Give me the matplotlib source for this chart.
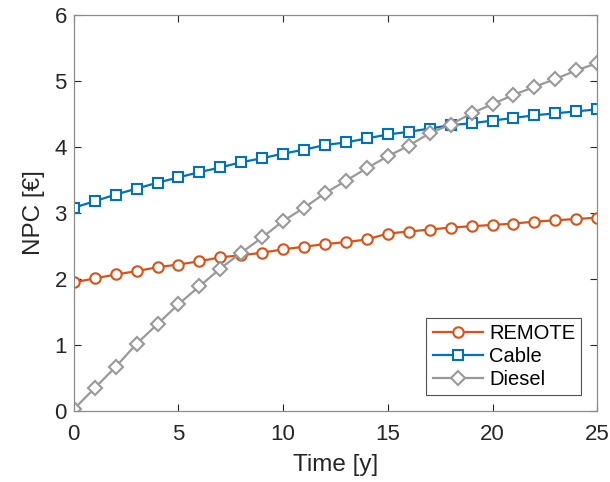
import numpy as np
import matplotlib
matplotlib.use("Agg")
import matplotlib.pyplot as plt

plt.rcParams['font.family'] = ['Liberation Sans', 'DejaVu Sans']

years = np.arange(0, 26)

remote = [1.95, 2.01, 2.07, 2.12, 2.18, 2.22, 2.27, 2.33, 2.36, 2.40,
          2.45, 2.49, 2.53, 2.56, 2.60, 2.69, 2.72, 2.75, 2.78, 2.80,
          2.82, 2.84, 2.87, 2.89, 2.91, 2.93]
cable = [3.08, 3.18, 3.28, 3.37, 3.46, 3.54, 3.62, 3.69, 3.77, 3.83,
         3.90, 3.96, 4.03, 4.07, 4.13, 4.19, 4.23, 4.28, 4.33, 4.36,
         4.40, 4.44, 4.48, 4.51, 4.54, 4.57]
diesel = [0.03, 0.35, 0.67, 1.02, 1.32, 1.62, 1.89, 2.16, 2.40, 2.63,
          2.88, 3.08, 3.30, 3.49, 3.68, 3.86, 4.02, 4.21, 4.34, 4.51,
          4.65, 4.79, 4.91, 5.03, 5.16, 5.27]

fig = plt.figure(figsize=(6.1, 4.82), dpi=100)
ax = fig.add_axes([0.121, 0.147, 0.858, 0.822])

lw = 1.6
ax.plot(years, remote, '-o', color='#D95319', label='REMOTE', linewidth=lw,
        markersize=7.5, markerfacecolor='white', markeredgewidth=1.5)
ax.plot(years, cable, '-s', color='#0072BD', label='Cable', linewidth=lw,
        markersize=6.5, markerfacecolor='white', markeredgewidth=1.5)
ax.plot(years, diesel, '-D', color='#999999', label='Diesel', linewidth=lw,
        markersize=7, markerfacecolor='white', markeredgewidth=1.5)

ax.set_xlim(0, 25)
ax.set_ylim(0, 6)
ax.set_xticks([0, 5, 10, 15, 20, 25])
ax.set_yticks([0, 1, 2, 3, 4, 5, 6])
ax.tick_params(direction='in', top=True, right=True, labelsize=16,
               colors='#262626', length=5, width=0.8)
ax.tick_params(axis='x', pad=9)
ax.tick_params(axis='y', pad=5)
for s in ax.spines.values():
    s.set_color('#8c8c8c')
    s.set_linewidth(0.9)
ax.set_xlabel('Time [y]', fontsize=17.5, color='#262626', labelpad=7)
ax.set_ylabel('NPC [€]', fontsize=17.5, color='#262626', labelpad=7)

leg = ax.legend(loc='lower right', fontsize=14.5, frameon=True, fancybox=False,
                handlelength=2.5, borderaxespad=0.8, handletextpad=0.3,
                labelspacing=0.2, borderpad=0.3)
leg.get_frame().set_edgecolor('#262626')
leg.get_frame().set_linewidth(0.8)

fig.savefig('out.png', dpi=100)
